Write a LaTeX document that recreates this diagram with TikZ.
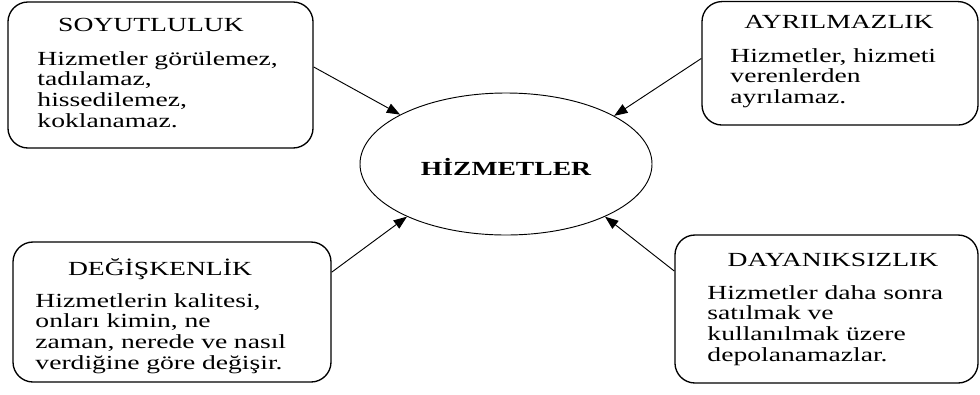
\documentclass[tikz,border=0pt]{standalone}
\usepackage{fontspec}
\setmainfont{Liberation Serif}[FakeStretch=1.38]
\usetikzlibrary{shapes.geometric, arrows.meta}

\begin{document}
\begin{tikzpicture}[x=0.75pt, y=-0.75pt, line width=0.7pt,
    box/.style={draw, line width=1pt, rounded corners=15pt, inner sep=0pt},
    title/.style={anchor=base, inner sep=0pt, font=\fontsize{15}{15.7}\selectfont},
    body/.style={anchor=base west, inner sep=0pt, text width=215pt, align=left,
                 font=\fontsize{15}{15.7}\selectfont},
    link/.style={-{Triangle[length=10pt,width=7.5pt]}}]
    \useasboundingbox (0,0) rectangle (980,394);

    % centre
    \node[draw, ellipse, minimum width=219pt, minimum height=106.5pt,
          text height=16.5pt, text depth=0pt,
          font=\fontsize{15}{15.7}\selectfont\bfseries] (hiz) at (506,164) {HİZMETLER};

    % four boxes
    \node[box, minimum width=228.8pt, minimum height=109.5pt] (soyut) at (160.5,75) {};
    \node[box, minimum width=207pt, minimum height=92.6pt] (ayril) at (840,63.3) {};
    \node[box, minimum width=238.5pt, minimum height=105pt] (degis) at (172,312) {};
    \node[box, minimum width=227.3pt, minimum height=111pt] (dayan) at (826.5,309) {};

    \node[title] (soyutT) at (151,31) {SOYUTLULUK};
    \node[body] (soyutB) at (37,65) {Hizmetler görülemez,\\ tadılamaz,\\ hissedilemez,\\ koklanamaz.};

    \node[title] (ayrilT) at (839,28) {AYRILMAZLIK};
    \node[body] (ayrilB) at (730,62) {Hizmetler, hizmeti\\ verenlerden\\ ayrılamaz.};

    \node[title] (degisT) at (160,275) {DEĞİŞKENLİK};
    \node[body] (degisB) at (35,307) {Hizmetlerin kalitesi,\\ onları kimin, ne\\ zaman, nerede ve nasıl\\ verdiğine göre değişir.};

    \node[title] (dayanT) at (833,266) {DAYANIKSIZLIK};
    \node[body] (dayanB) at (707,299) {Hizmetler daha sonra\\ satılmak ve\\ kullanılmak üzere\\ depolanamazlar.};

    % arrows
    \draw[link] (soyut.3) -- (hiz.155);
    \draw[link] (ayril.178) -- (hiz.24);
    \draw[link] (degis.14) -- (hiz.208);
    \draw[link] (dayan.166) -- (hiz.332);
\end{tikzpicture}
\end{document}
